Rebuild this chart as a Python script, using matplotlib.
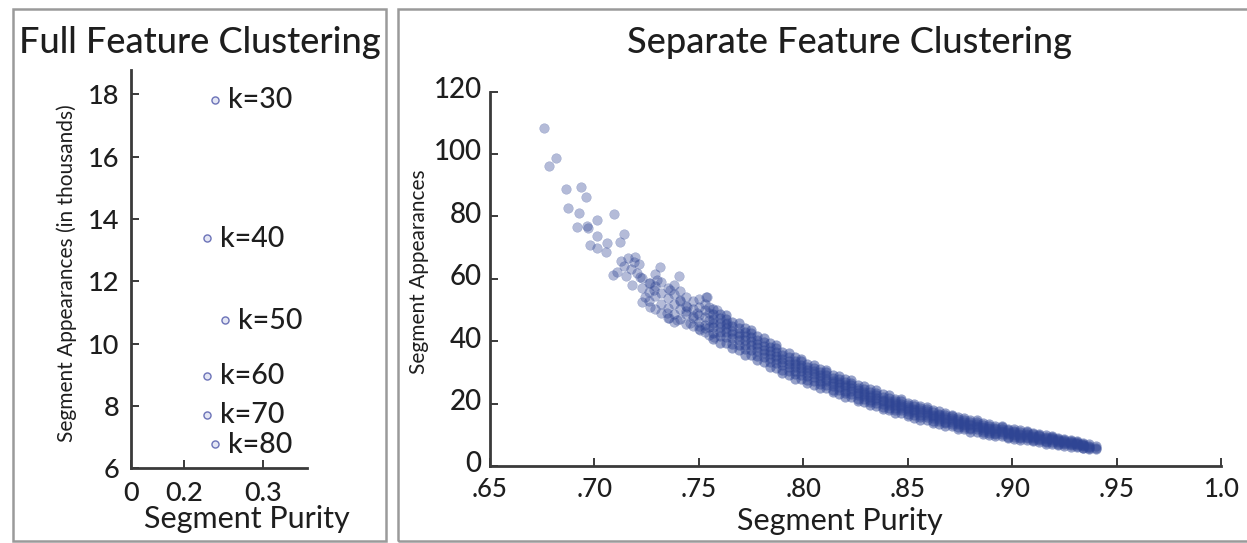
import matplotlib
matplotlib.use("Agg")
import matplotlib.pyplot as plt
import matplotlib.transforms as mtrans
from matplotlib.patches import Rectangle

# ---------------- data ----------------
# Full feature clustering (left panel)
k_labels = ["k=30", "k=40", "k=50", "k=60", "k=70", "k=80"]
full_purity = [0.239, 0.229, 0.252, 0.229, 0.229, 0.239]
full_appearances = [17.83, 13.39, 10.76, 8.97, 7.72, 6.78]

left_xticks = [0.1322, 0.2, 0.3]
left_xticklabels = ["0", "0.2", "0.3"]
left_yticks = [6, 8, 10, 12, 14, 16, 18]

# Separate feature clustering (right panel): sparse upper points
sparse_purity = [0.6759, 0.6816, 0.6784, 0.6864, 0.6935, 0.6960, 0.6875, 0.6928,
                 0.7094, 0.7011, 0.6916, 0.6965, 0.6971, 0.7011, 0.7142, 0.6979,
                 0.7011, 0.7056, 0.7062, 0.7123, 0.7091, 0.7107, 0.7125, 0.7140,
                 0.7160, 0.7175, 0.7190, 0.7205, 0.7150, 0.7215, 0.7182, 0.7243,
                 0.7264, 0.7315, 0.7407, 0.7355, 0.7535, 0.7283, 0.7219, 0.7299,
                 0.7195, 0.7267, 0.7363, 0.7411, 0.7347, 0.7443, 0.7491, 0.7539,
                 0.7587, 0.7507, 0.7459, 0.7395, 0.7635, 0.7571]
sparse_appearances = [108.4, 98.7, 96.2, 88.7, 89.3, 86.1, 82.6, 81.2,
                      80.8, 78.8, 76.7, 77.0, 76.2, 73.7, 74.4, 70.8,
                      69.8, 68.7, 71.6, 71.9, 61.2, 62.3, 65.8, 64.0,
                      66.8, 63.2, 65.5, 62.0, 61.0, 64.8, 58.0, 54.3,
                      51.1, 63.9, 60.9, 47.3, 54.1, 56.4, 60.7, 59.6,
                      67.1, 58.6, 56.4, 53.2, 48.9, 51.1, 48.9, 54.3,
                      50.0, 43.6, 45.7, 46.8, 45.7, 41.4]

# Looser cluster (purity columns and appearance values read in each column)
mid_purity = [0.723, 0.726, 0.729, 0.732, 0.735, 0.738, 0.741, 0.744, 0.747, 0.750,
              0.753, 0.755]
mid_appearances = [
    [52.5, 57.0, 60.2],
    [53.0, 55.8, 58.5],
    [50.3, 54.6, 57.8, 61.5],
    [49.0, 52.0, 55.5, 58.9],
    [47.5, 50.5, 53.8, 56.9],
    [46.0, 48.8, 51.9, 55.2, 58.0],
    [47.2, 50.3, 53.0, 56.1],
    [45.5, 48.6, 49.8, 51.4, 54.0],
    [44.7, 47.3, 48.0, 50.2, 52.8],
    [43.9, 45.0, 46.2, 48.5, 51.0, 53.5],
    [42.8, 44.2, 45.3, 47.6, 49.9, 52.0],
    [41.9, 44.5, 46.8, 48.9, 50.8],
]

# Dense band (purity columns and appearance values read in each column)
band_purity = [0.757, 0.760, 0.763, 0.766, 0.769, 0.772, 0.775, 0.778, 0.781, 0.784,
               0.787, 0.790, 0.793, 0.796, 0.799, 0.802, 0.805, 0.808, 0.811, 0.814,
               0.817, 0.820, 0.823, 0.826, 0.829, 0.832, 0.835, 0.838, 0.841, 0.844,
               0.847, 0.850, 0.853, 0.856, 0.859, 0.862, 0.865, 0.868, 0.871, 0.874,
               0.877, 0.880, 0.883, 0.886, 0.889, 0.892, 0.895, 0.898, 0.901, 0.904,
               0.907, 0.910, 0.913, 0.916, 0.919, 0.922, 0.925, 0.928, 0.931, 0.934,
               0.937, 0.940]
band_appearances = [
    [40.8, 42.6, 44.5, 45.8, 47.1, 48.6, 50.4],
    [39.5, 41.5, 42.8, 44.5, 45.8, 47.3, 48.8],
    [39.5, 41.2, 42.9, 44.1, 45.6, 47.1, 48.3],
    [37.8, 39.0, 41.0, 42.2, 43.4, 44.8, 46.2],
    [37.1, 38.7, 40.4, 41.5, 42.7, 44.1, 45.8],
    [35.7, 37.5, 38.7, 40.3, 41.5, 42.8, 44.2],
    [35.6, 37.2, 38.7, 39.9, 41.2, 42.6, 43.7],
    [34.1, 35.2, 36.9, 38.0, 39.1, 40.4, 41.6],
    [33.3, 34.8, 36.3, 37.3, 38.4, 39.6, 41.1],
    [31.8, 33.4, 34.5, 35.9, 36.9, 38.2, 39.4],
    [31.5, 32.9, 34.3, 35.3, 36.5, 37.7, 38.7],
    [29.8, 30.8, 32.3, 33.3, 34.3, 35.5, 36.6],
    [29.2, 30.5, 31.8, 32.8, 33.7, 34.9, 36.2],
    [28.0, 29.5, 30.4, 31.7, 32.6, 33.7, 34.8],
    [27.9, 29.2, 30.4, 31.3, 32.4, 33.5, 34.4],
    [26.7, 27.5, 28.9, 29.8, 30.7, 31.8, 32.8],
    [26.0, 27.3, 28.5, 29.4, 30.3, 31.3, 32.5],
    [24.9, 26.3, 27.1, 28.3, 29.2, 30.2, 31.2],
    [24.9, 26.0, 27.2, 28.0, 29.0, 30.0, 30.8],
    [23.7, 24.5, 25.7, 26.5, 27.3, 28.3, 29.3],
    [23.2, 24.3, 25.4, 26.2, 26.9, 27.9, 28.9],
    [22.2, 23.4, 24.1, 25.2, 26.0, 26.9, 27.8],
    [22.0, 23.0, 24.1, 24.9, 25.8, 26.7, 27.4],
    [20.8, 21.6, 22.7, 23.5, 24.2, 25.1, 25.9],
    [20.4, 21.4, 22.3, 23.0, 23.7, 24.6, 25.6],
    [19.4, 20.5, 21.2, 22.2, 22.9, 23.7, 24.6],
    [19.3, 20.3, 21.2, 21.9, 22.7, 23.5, 24.2],
    [18.2, 18.9, 20.0, 20.7, 21.3, 22.2, 23.0],
    [17.8, 18.7, 19.6, 20.2, 20.9, 21.7, 22.6],
    [17.0, 18.0, 18.6, 19.5, 20.1, 20.9, 21.6],
    [16.9, 17.8, 18.7, 19.3, 20.0, 20.8, 21.4],
    [16.0, 16.6, 17.6, 18.2, 18.8, 19.5, 20.2],
    [15.5, 16.4, 17.2, 17.8, 18.4, 19.1, 20.0],
    [14.8, 15.8, 16.4, 17.2, 17.8, 18.5, 19.2],
    [14.8, 15.6, 16.4, 16.9, 17.6, 18.3, 18.9],
    [13.8, 14.4, 15.3, 15.9, 16.5, 17.2, 17.8],
    [13.5, 14.3, 15.1, 15.6, 16.2, 16.8, 17.6],
    [12.8, 13.7, 14.2, 15.0, 15.6, 16.2, 16.9],
    [12.7, 13.5, 14.2, 14.7, 15.3, 16.0, 16.5],
    [11.9, 12.4, 13.3, 13.8, 14.3, 15.0, 15.6],
    [11.7, 12.4, 13.1, 13.6, 14.1, 14.7, 15.4],
    [11.0, 11.8, 12.3, 13.0, 13.5, 14.1, 14.7],
    [11.0, 11.7, 12.4, 12.9, 13.5, 14.1, 14.6],
    [10.4, 10.9, 11.6, 12.1, 12.6, 13.2, 13.7],
    [10.0, 10.7, 11.3, 11.8, 12.3, 12.8, 13.5],
    [9.5, 10.2, 10.7, 11.3, 11.8, 12.3, 12.8],
    [9.6, 10.2, 10.8, 11.3, 11.8, 12.4, 12.8],
    [9.0, 9.4, 10.1, 10.5, 10.9, 11.5, 12.0],
    [8.8, 9.4, 10.0, 10.4, 10.8, 11.3, 11.9],
    [8.4, 9.0, 9.4, 10.0, 10.4, 10.9, 11.4],
    [8.3, 8.9, 9.4, 9.8, 10.3, 10.8, 11.2],
    [7.9, 8.3, 8.9, 9.2, 9.6, 10.1, 10.5],
    [7.7, 8.2, 8.7, 9.1, 9.5, 9.9, 10.4],
    [7.1, 7.7, 8.1, 8.6, 9.0, 9.4, 9.9],
    [7.2, 7.7, 8.2, 8.5, 8.9, 9.4, 9.7],
    [6.7, 7.0, 7.6, 7.9, 8.3, 8.7, 9.1],
    [6.4, 6.9, 7.3, 7.7, 8.0, 8.4, 8.8],
    [6.1, 6.6, 6.9, 7.3, 7.6, 8.0, 8.3],
    [6.1, 6.5, 6.9, 7.2, 7.5, 7.8, 8.1],
    [5.7, 5.9, 6.3, 6.6, 6.8, 7.1, 7.4],
    [5.5, 5.9, 6.2, 6.5, 6.9],
    [5.5, 5.9, 6.3],
]

right_xticks = [0.65, 0.70, 0.75, 0.80, 0.85, 0.90, 0.95, 1.0]
right_xticklabels = [".65", ".70", ".75", ".80", ".85", ".90", ".95", "1.0"]
right_yticks = [0, 20, 40, 60, 80, 100, 120]

# ---------------- figure ----------------
W, H = 1247, 543
fig = plt.figure(figsize=(W / 100, H / 100), dpi=100)
fig.patch.set_facecolor("white")

FONT = ["Lato", "DejaVu Sans"]
plt.rcParams["font.family"] = FONT
plt.rcParams["font.weight"] = "medium"
TXT = "#1e1e1e"
SPINE = "#3a3a3a"
DOT = "#2f4594"


def px_axes(x0, x1, ytop, ybot):
    return fig.add_axes([x0 / W, 1 - ybot / H, (x1 - x0) / W, (ybot - ytop) / H])


def flatten(cols, vals):
    xs = [x for x, ys in zip(cols, vals) for _ in ys]
    ys_ = [y for ys in vals for y in ys]
    return xs, ys_


# panel borders
for (x0, x1) in [(13, 386.5), (398, 1260)]:
    fig.add_artist(Rectangle((x0 / W, 1 - 541 / H), (x1 - x0) / W, (541 - 9) / H,
                             transform=fig.transFigure, fill=False,
                             edgecolor="#9a9a9a", linewidth=1.8))

# ---------- left panel ----------
axL = px_axes(130.7, 307.3, 70, 468.3)
axL.scatter(full_purity, full_appearances, s=26, facecolors="#e4e6f4",
            edgecolors="#6c73b8", linewidths=1.0, zorder=3)
for lab, xv, yv in zip(k_labels, full_purity, full_appearances):
    axL.annotate(lab, (xv, yv), xytext=(9, -0.5), textcoords="offset points",
                 ha="left", va="center", fontsize=20.5, color=TXT)
axL.set_xlim(left_xticks[0], 0.3557)
axL.set_ylim(6, 18.78)
axL.set_xticks(left_xticks)
axL.set_xticklabels(left_xticklabels)
axL.set_yticks(left_yticks)
axL.tick_params(direction="in", length=6, width=1.4, colors=SPINE,
                labelcolor=TXT, labelsize=19.5)
axL.tick_params(axis="x", pad=9)
axL.tick_params(axis="y", pad=8)
axL.set_xlabel("Segment Purity", fontsize=22, color=TXT)
axL.xaxis.set_label_coords(0.659, -0.127)
axL.xaxis.label.set_va("center")
axL.set_ylabel("Segment Appearances (in thousands)", fontsize=15, color=TXT)
axL.yaxis.set_label_coords(-0.36, 0.49)
axL.yaxis.label.set_va("center")
fig.text(200 / W, 1 - 53 / H, "Full Feature Clustering", ha="center",
         va="baseline", fontsize=26, color=TXT)

# ---------- right panel ----------
axR = px_axes(490, 1221, 91.5, 466)
mid_x, mid_y = flatten(mid_purity, mid_appearances)
band_x, band_y = flatten(band_purity, band_appearances)
axR.scatter(sparse_purity + mid_x, sparse_appearances + mid_y, s=48,
            color=DOT, alpha=0.36, linewidths=0.3, edgecolors=DOT, zorder=3)
axR.scatter(band_x, band_y, s=54, color=DOT, alpha=0.5, linewidths=0,
            zorder=3)
axR.set_xlim(0.65, 1.0)
axR.set_ylim(0, 120)
axR.set_xticks(right_xticks)
axR.set_xticklabels(right_xticklabels)
axR.set_yticks(right_yticks)
axR.tick_params(direction="in", length=6, width=1.4, colors=SPINE,
                labelcolor=TXT)
axR.tick_params(axis="x", pad=8, labelsize=18.5)
axR.tick_params(axis="y", pad=6, labelsize=20)
# lift the y tick labels a touch, as in the original
lift = mtrans.ScaledTranslation(0, 3 / 72, fig.dpi_scale_trans)
for lab in axR.get_yticklabels():
    lab.set_transform(lab.get_transform() + lift)
axR.set_xlabel("Segment Purity", fontsize=22, color=TXT)
axR.xaxis.set_label_coords(0.479, -0.146)
axR.xaxis.label.set_va("center")
axR.set_ylabel("Segment Appearances", fontsize=15, color=TXT)
axR.yaxis.set_label_coords(-0.097, 0.518)
axR.yaxis.label.set_va("center")
fig.text(849 / W, 1 - 53 / H, "Separate Feature Clustering", ha="center",
         va="baseline", fontsize=26, color=TXT)

for ax in (axL, axR):
    for side in ("top", "right"):
        ax.spines[side].set_visible(False)
    for side in ("left", "bottom"):
        ax.spines[side].set_color(SPINE)
        ax.spines[side].set_linewidth(2.0)
    ax.set_facecolor("none")

fig.savefig("out.png", dpi=100)
